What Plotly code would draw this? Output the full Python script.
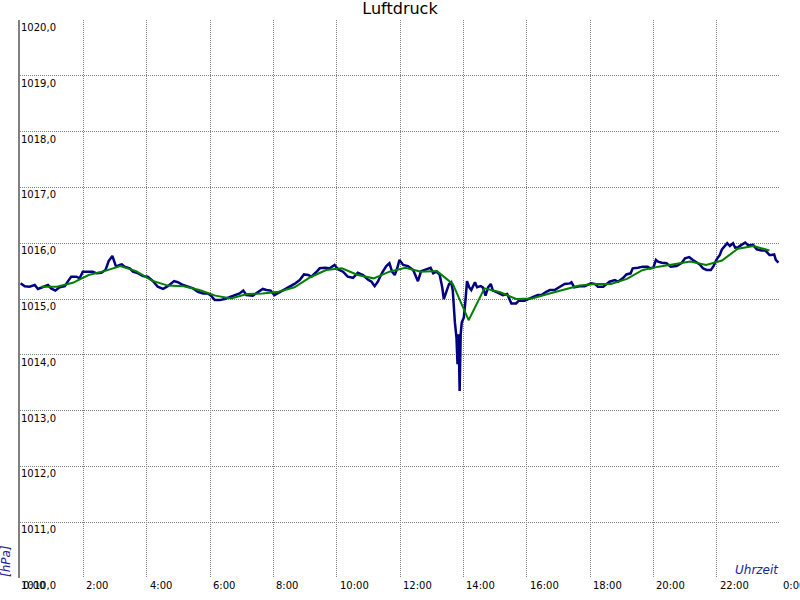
import plotly.graph_objects as go

# Blue series: raw air pressure (minutes after midnight, hPa)
raw_minutes = [1, 9, 18, 28, 34, 44, 53, 59, 67, 75, 85, 91, 97, 107, 113, 119, 129, 138, 145, 154,
               162, 168, 175, 179, 182, 189, 193, 198, 208, 214, 224, 233, 242, 252, 261, 271, 280, 292, 299, 309,
               318, 328, 337, 347, 356, 362, 369, 378, 388, 397, 407, 416, 423, 429, 441, 451, 460, 467, 475, 482,
               492, 502, 511, 520, 530, 538, 546, 552, 560, 568, 577, 587, 596, 603, 612, 621, 631, 640, 650, 659,
               666, 672, 678, 686, 694, 700, 705, 710, 715, 719, 726, 735, 745, 751, 754, 760, 770, 778, 783, 789,
               795, 800, 803, 808, 813, 817, 820, 824, 827, 829, 831, 833, 835, 837, 841, 844, 847, 851, 855, 862,
               866, 873, 877, 882, 887, 892, 896, 904, 912, 915, 923, 928, 931, 940, 945, 956, 966, 972, 981, 988,
               997, 1004, 1013, 1023, 1032, 1042, 1045, 1050, 1060, 1070, 1082, 1089, 1095, 1105, 1111, 1117, 1127, 1133, 1143, 1149,
               1157, 1161, 1171, 1180, 1189, 1194, 1200, 1205, 1209, 1216, 1225, 1233, 1244, 1254, 1260, 1268, 1275, 1283, 1288, 1294,
               1301, 1309, 1314, 1320, 1326, 1330, 1336, 1340, 1345, 1351, 1355, 1361, 1367, 1374, 1380, 1389, 1396, 1405, 1412, 1420,
               1424, 1429, 1432, 1437]
raw_hpa = [1015.28, 1015.23, 1015.22, 1015.25, 1015.18, 1015.21, 1015.25, 1015.19, 1015.15, 1015.21,
           1015.23, 1015.32, 1015.40, 1015.40, 1015.37, 1015.49, 1015.49, 1015.49, 1015.46, 1015.47,
           1015.52, 1015.68, 1015.77, 1015.68, 1015.58, 1015.61, 1015.62, 1015.58, 1015.55, 1015.49,
           1015.46, 1015.41, 1015.40, 1015.32, 1015.22, 1015.18, 1015.23, 1015.32, 1015.30, 1015.25,
           1015.22, 1015.19, 1015.13, 1015.10, 1015.10, 1015.06, 1014.98, 1014.98, 1015.00, 1015.03,
           1015.07, 1015.10, 1015.15, 1015.07, 1015.06, 1015.12, 1015.18, 1015.16, 1015.15, 1015.07,
           1015.12, 1015.18, 1015.21, 1015.27, 1015.34, 1015.44, 1015.43, 1015.40, 1015.47, 1015.55,
           1015.56, 1015.55, 1015.61, 1015.53, 1015.49, 1015.40, 1015.38, 1015.47, 1015.43, 1015.35,
           1015.31, 1015.23, 1015.31, 1015.47, 1015.59, 1015.64, 1015.49, 1015.43, 1015.56, 1015.70,
           1015.61, 1015.59, 1015.52, 1015.38, 1015.32, 1015.50, 1015.53, 1015.56, 1015.46, 1015.49,
           1015.44, 1015.21, 1015.00, 1015.12, 1015.27, 1015.30, 1015.15, 1014.58, 1014.31, 1013.83,
           1014.37, 1013.35, 1014.37, 1014.58, 1014.67, 1014.97, 1015.32, 1015.21, 1015.16, 1015.30,
           1015.21, 1015.23, 1015.21, 1015.06, 1015.21, 1015.27, 1015.15, 1015.12, 1015.09, 1015.07,
           1015.09, 1015.00, 1014.92, 1014.92, 1014.97, 1014.97, 1015.01, 1015.04, 1015.07, 1015.07,
           1015.13, 1015.16, 1015.16, 1015.22, 1015.27, 1015.28, 1015.30, 1015.21, 1015.23, 1015.23,
           1015.28, 1015.27, 1015.22, 1015.22, 1015.27, 1015.31, 1015.34, 1015.31, 1015.38, 1015.44,
           1015.46, 1015.55, 1015.56, 1015.58, 1015.58, 1015.55, 1015.56, 1015.70, 1015.67, 1015.65,
           1015.64, 1015.58, 1015.59, 1015.65, 1015.73, 1015.75, 1015.70, 1015.65, 1015.62, 1015.55,
           1015.52, 1015.52, 1015.59, 1015.71, 1015.79, 1015.89, 1015.95, 1016.00, 1015.95, 1016.00,
           1015.92, 1015.93, 1015.97, 1016.01, 1015.96, 1015.97, 1015.89, 1015.87, 1015.87, 1015.79,
           1015.79, 1015.80, 1015.70, 1015.65]

# Green series: smoothed air pressure
avg_minutes = [40, 70, 100, 130, 160, 190, 220, 250, 280, 310, 340, 370, 400, 430, 460, 490,
               520, 550, 580, 610, 640, 670, 700, 730, 760, 790, 820, 850, 880, 910, 940, 970,
               1000, 1030, 1060, 1090, 1120, 1150, 1180, 1210, 1240, 1270, 1300, 1330, 1360, 1390, 1420]
avg_hpa = [1015.22, 1015.22, 1015.29, 1015.43, 1015.50, 1015.59, 1015.50, 1015.33, 1015.24, 1015.23,
           1015.16, 1015.06, 1015.01, 1015.09, 1015.10, 1015.13, 1015.21, 1015.39, 1015.52, 1015.55,
           1015.43, 1015.37, 1015.49, 1015.56, 1015.49, 1015.50, 1015.27, 1014.62, 1015.19, 1015.12,
           1015.00, 1015.01, 1015.09, 1015.17, 1015.24, 1015.27, 1015.27, 1015.36, 1015.52, 1015.58,
           1015.63, 1015.67, 1015.61, 1015.69, 1015.90, 1015.95, 1015.87]

x_tick_vals = [0, 120, 240, 360, 480, 600, 720, 840, 960, 1080, 1200, 1320, 1440]
x_tick_text = ["0:00", "2:00", "4:00", "6:00", "8:00", "10:00", "12:00", "14:00",
               "16:00", "18:00", "20:00", "22:00", "0:00"]
y_tick_vals = [1010, 1011, 1012, 1013, 1014, 1015, 1016, 1017, 1018, 1019, 1020]
y_tick_text = ["1010,0", "1011,0", "1012,0", "1013,0", "1014,0", "1015,0",
               "1016,0", "1017,0", "1018,0", "1019,0", "1020,0"]

FONT = "DejaVu Sans"
AXIS_BLUE = "#22229a"
GRID = "#808080"

fig = go.Figure()
fig.add_trace(go.Scatter(x=raw_minutes, y=raw_hpa, mode="lines",
                         line=dict(color="#000080", width=2.5), showlegend=False))
fig.add_trace(go.Scatter(x=avg_minutes, y=avg_hpa, mode="lines",
                         line=dict(color="#008000", width=2), showlegend=False))

annotations = []
for v, t in zip(y_tick_vals, y_tick_text):
    annotations.append(dict(text=t, xref="paper", yref="y", x=0, y=v, xanchor="left",
                            yanchor="top", showarrow=False, borderpad=0, xshift=0, yshift=-1,
                            font=dict(family=FONT, size=10, color="black")))
for v, t in zip(x_tick_vals, x_tick_text):
    annotations.append(dict(text=t, xref="x", yref="paper", x=v, y=0, xanchor="left",
                            yanchor="top", showarrow=False, borderpad=0, xshift=2, yshift=-1,
                            font=dict(family=FONT, size=10, color="black")))
annotations.append(dict(text="<i>[hPa]</i>", xref="paper", yref="paper", x=0, y=0, xanchor="right",
                        yanchor="bottom", xshift=-6, textangle=-90, showarrow=False, borderpad=0,
                        font=dict(family=FONT, size=12, color=AXIS_BLUE)))
annotations.append(dict(text="<i>Uhrzeit</i>", xref="paper", yref="paper", x=1, y=0, xanchor="right",
                        yanchor="bottom", showarrow=False, borderpad=0,
                        font=dict(family=FONT, size=12, color=AXIS_BLUE)))

fig.update_layout(
    width=800, height=600,
    margin=dict(l=20, r=20, t=20, b=22),
    paper_bgcolor="white", plot_bgcolor="white",
    font=dict(family=FONT, size=10, color="black"),
    title=dict(text="Luftdruck", x=0.5, xanchor="center", y=1 - 8 / 600, yanchor="middle",
               yref="container", font=dict(family=FONT, size=16, color="black")),
    xaxis=dict(range=[0, 1440], tickvals=x_tick_vals, showticklabels=False,
               showgrid=True, gridcolor=GRID, griddash="1px,1px", gridwidth=1,
               showline=False, zeroline=False, ticks="", automargin=False),
    yaxis=dict(range=[1010, 1020], tickvals=y_tick_vals, showticklabels=False,
               showgrid=True, gridcolor=GRID, griddash="1px,1px", gridwidth=1,
               showline=True, linecolor=GRID, linewidth=2, zeroline=False, ticks="",
               automargin=False),
    annotations=annotations,
)

fig.write_html("out.html", config={"displayModeBar": False},
               post_script="document.body.style.margin='0px';")
